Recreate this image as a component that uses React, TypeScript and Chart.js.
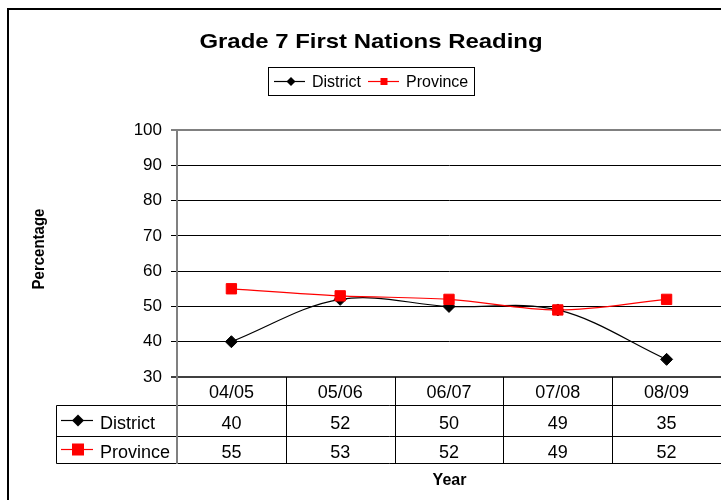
import React, { useEffect, useRef } from "react";
import { Chart, registerables } from "chart.js";

Chart.register(...registerables);

const TITLE = "Grade 7 First Nations Reading";
const Y_TITLE = "Percentage";
const X_TITLE = "Year";
const categories = ["04/05", "05/06", "06/07", "07/08", "08/09"];
const seriesNames = ["District", "Province"];
const districtValues = [40, 52, 50, 49, 35];
const provinceValues = [55, 53, 52, 49, 52];
const yMin = 30;
const yMax = 100;
const yStep = 10;

const FONT = "'Liberation Sans', Arial, sans-serif";

function drawMarker(ctx: CanvasRenderingContext2D, kind: string, x: number, y: number, s: number) {
  ctx.save();
  if (kind === "diamond") {
    ctx.fillStyle = "#000";
    ctx.beginPath();
    ctx.moveTo(x, y - s);
    ctx.lineTo(x + s, y);
    ctx.lineTo(x, y + s);
    ctx.lineTo(x - s, y);
    ctx.closePath();
    ctx.fill();
  } else {
    ctx.fillStyle = "#ff0000";
    ctx.fillRect(x - s, y - s, 2 * s, 2 * s);
  }
  ctx.restore();
}

const decorPlugin = {
  id: "decor",
  afterDraw(chart: any) {
    const ctx: CanvasRenderingContext2D = chart.ctx;
    const area = chart.chartArea;
    const xs = chart.scales.x;
    ctx.save();

    // outer border
    ctx.strokeStyle = "#000";
    ctx.lineWidth = 2;
    ctx.beginPath();
    ctx.moveTo(8, 520);
    ctx.lineTo(8, 9);
    ctx.lineTo(740, 9);
    ctx.stroke();

    // title
    ctx.save();
    ctx.fillStyle = "#000";
    ctx.font = `bold 21px ${FONT}`;
    ctx.textAlign = "center";
    ctx.textBaseline = "alphabetic";
    ctx.translate(371, 48);
    ctx.scale(1.14, 1);
    ctx.fillText(TITLE, 0, 0);
    ctx.restore();

    // legend
    ctx.lineWidth = 1;
    ctx.strokeStyle = "#000";
    ctx.strokeRect(268.5, 67.5, 206, 28);
    ctx.font = `16px ${FONT}`;
    ctx.textAlign = "left";
    const legendItems = [
      { name: seriesNames[0], color: "#000", kind: "diamond", x0: 274, x1: 305, mx: 291, tx: 312, s: 4.5 },
      { name: seriesNames[1], color: "#ff0000", kind: "square", x0: 368, x1: 399, mx: 384, tx: 406, s: 3.5 },
    ];
    legendItems.forEach((it) => {
      ctx.strokeStyle = it.color;
      ctx.lineWidth = 1.2;
      ctx.beginPath();
      ctx.moveTo(it.x0, 81.5);
      ctx.lineTo(it.x1, 81.5);
      ctx.stroke();
      drawMarker(ctx, it.kind, it.mx, 81.5, it.s);
      ctx.fillStyle = "#000";
      ctx.fillText(it.name, it.tx, 87);
    });

    // y title
    ctx.save();
    ctx.translate(44, 249);
    ctx.rotate(-Math.PI / 2);
    ctx.scale(1, 1.12);
    ctx.font = `bold 15px ${FONT}`;
    ctx.textAlign = "center";
    ctx.fillStyle = "#000";
    ctx.fillText(Y_TITLE, 0, 0);
    ctx.restore();

    // data table
    const top = area.bottom;
    const r1 = 405.5;
    const r2 = 436.5;
    const r3 = 463.5;
    const left = 56.5;
    const n = categories.length;
    const centers = categories.map((_, i) => xs.getPixelForValue(i));
    const half = n > 1 ? (centers[1] - centers[0]) / 2 : 50;

    ctx.lineWidth = 1;
    ctx.strokeStyle = "#000";
    [r1, r2, r3].forEach((y) => {
      ctx.beginPath();
      ctx.moveTo(left, y);
      ctx.lineTo(area.right + 2, y);
      ctx.stroke();
    });
    ctx.beginPath();
    ctx.moveTo(left, r1);
    ctx.lineTo(left, r3);
    ctx.stroke();
    for (let i = 0; i < n - 1; i++) {
      const bx = Math.round(centers[i] + half) + 0.5;
      ctx.beginPath();
      ctx.moveTo(bx, top);
      ctx.lineTo(bx, r3);
      ctx.stroke();
    }
    ctx.strokeStyle = "#808080";
    ctx.lineWidth = 2;
    ctx.beginPath();
    ctx.moveTo(area.left, top);
    ctx.lineTo(area.left, r3 + 0.5);
    ctx.stroke();

    ctx.fillStyle = "#000";
    ctx.font = `18px ${FONT}`;
    ctx.textAlign = "center";
    categories.forEach((c, i) => ctx.fillText(c, centers[i], 398));
    districtValues.forEach((v, i) => ctx.fillText(String(v), centers[i], 429));
    provinceValues.forEach((v, i) => ctx.fillText(String(v), centers[i], 458));

    const rows = [
      { name: seriesNames[0], color: "#000", kind: "diamond", y: 420.5, base: 429, s: 6 },
      { name: seriesNames[1], color: "#ff0000", kind: "square", y: 449.5, base: 458, s: 6 },
    ];
    rows.forEach((r) => {
      ctx.strokeStyle = r.color;
      ctx.lineWidth = 1.2;
      ctx.beginPath();
      ctx.moveTo(61, r.y);
      ctx.lineTo(93, r.y);
      ctx.stroke();
      drawMarker(ctx, r.kind, 78, r.y, r.s);
      ctx.fillStyle = "#000";
      ctx.textAlign = "left";
      ctx.fillText(r.name, 100, r.base);
    });

    ctx.font = `bold 16px ${FONT}`;
    ctx.textAlign = "center";
    ctx.fillText(X_TITLE, 449.5, 485);

    ctx.restore();
  },
};

export default function App() {
  const ref = useRef<HTMLCanvasElement | null>(null);

  useEffect(() => {
    if (!ref.current) return;
    const chart = new Chart(ref.current, {
      type: "line",
      data: {
        labels: categories,
        datasets: [
          {
            label: seriesNames[0],
            data: districtValues,
            borderColor: "#000000",
            backgroundColor: "#000000",
            borderWidth: 1.2,
            tension: 0.35,
            pointStyle: "rectRot",
            pointRadius: 6,
            pointBorderWidth: 1,
            pointBorderColor: "#000000",
            pointBackgroundColor: "#000000",
            order: 1,
          },
          {
            label: seriesNames[1],
            data: provinceValues,
            borderColor: "#ff0000",
            backgroundColor: "#ff0000",
            borderWidth: 1.2,
            tension: 0.35,
            pointStyle: "rect",
            pointRadius: 7.3,
            pointBorderWidth: 1,
            pointBorderColor: "#ff0000",
            pointBackgroundColor: "#ff0000",
            order: 0,
          },
        ],
      },
      options: {
        responsive: false,
        animation: false,
        layout: { autoPadding: false, padding: { left: 0, top: 130, right: 0, bottom: 123 } },
        plugins: {
          legend: { display: false },
          title: { display: false },
          tooltip: { enabled: false },
        },
        scales: {
          x: {
            type: "category",
            offset: true,
            display: false,
          },
          y: {
            min: yMin,
            max: yMax,
            afterFit(scale: any) {
              scale.width = 177;
            },
            ticks: {
              stepSize: yStep,
              color: "#000",
              padding: 9,
              font: { family: FONT, size: 17 },
            },
            grid: {
              tickLength: 6,
              color: (c: any) => {
                const v = c.tick ? c.tick.value : 0;
                if (v === yMax) return "#808080";
                if (v === yMin) return "#404040";
                return "#000000";
              },
              lineWidth: (c: any) => {
                const v = c.tick ? c.tick.value : 0;
                if (v === yMax || v === yMin) return 2;
                return 1;
              },
            },
            border: { color: "#808080", width: 2 },
          },
        },
      },
      plugins: [decorPlugin],
    } as any);
    return () => chart.destroy();
  }, []);

  return (
    <div style={{ position: "absolute", left: 0, top: 0, width: 721, height: 500, background: "#fff" }}>
      <canvas ref={ref} width={721} height={500} style={{ width: 721, height: 500, display: "block" }} />
    </div>
  );
}
